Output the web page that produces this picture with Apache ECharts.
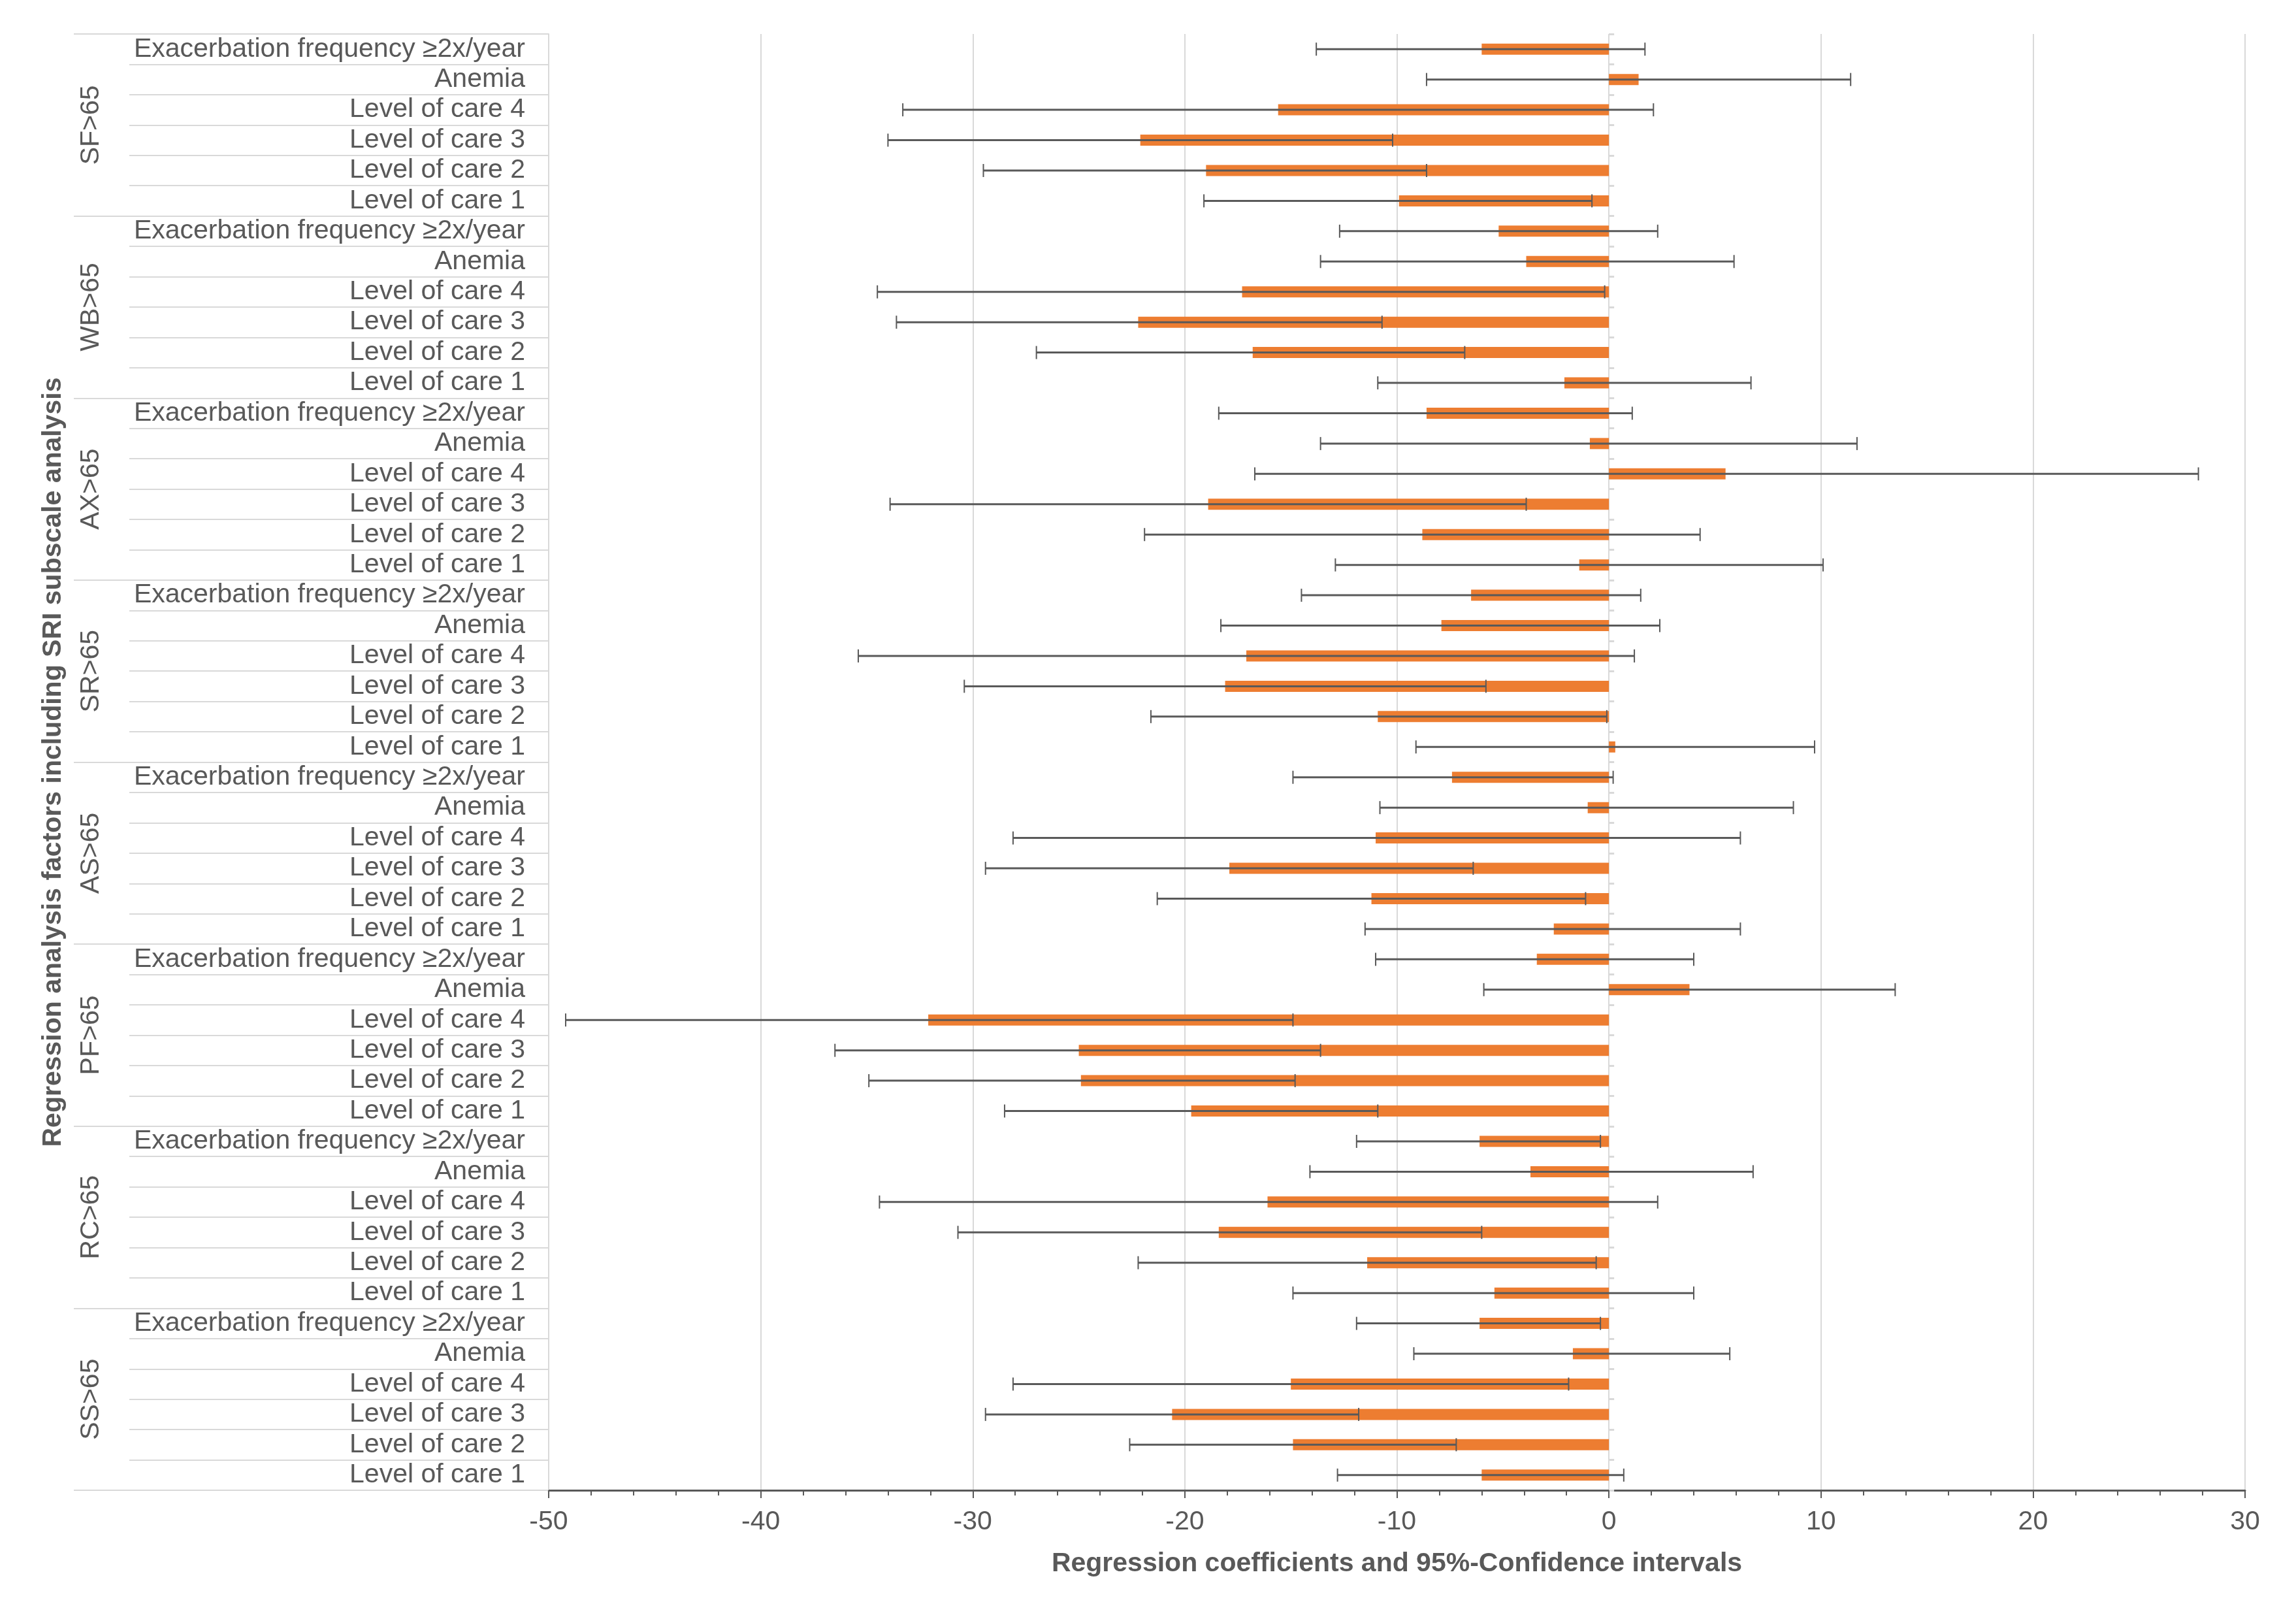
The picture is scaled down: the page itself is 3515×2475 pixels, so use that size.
<!DOCTYPE html>
<html>
<head>
<meta charset="utf-8">
<script src="https://cdn.jsdelivr.net/npm/echarts@6/dist/echarts.min.js"></script>
<style>
  html, body { margin: 0; padding: 0; background: #fff; }
  #main { width: 3515px; height: 2475px; }
</style>
</head>
<body>
<div id="main"></div>
<script>
// subscales (top to bottom) and the factors inside each one
var groups = ['SF>65', 'WB>65', 'AX>65', 'SR>65', 'AS>65', 'PF>65', 'RC>65', 'SS>65'];
var factors = ['Exacerbation frequency ≥2x/year', 'Anemia', 'Level of care 4', 'Level of care 3', 'Level of care 2', 'Level of care 1'];

// regression coefficients, one row per subscale
var coef = [
  -6.0, 1.4, -15.6, -22.1, -19.0, -9.9,    // SF
  -5.2, -3.9, -17.3, -22.2, -16.8, -2.1,   // WB
  -8.6, -0.9, 5.5, -18.9, -8.8, -1.4,      // AX
  -6.5, -7.9, -17.1, -18.1, -10.9, 0.3,    // SR
  -7.4, -1.0, -11.0, -17.9, -11.2, -2.6,   // AS
  -3.4, 3.8, -32.1, -25.0, -24.9, -19.7,   // PF
  -6.1, -3.7, -16.1, -18.4, -11.4, -5.4,   // RC
  -6.1, -1.7, -15.0, -20.6, -14.9, -6.0    // SS
];
// 95% CI lower bounds
var ciLow = [
  -13.8, -8.6, -33.3, -34.0, -29.5, -19.1,
  -12.7, -13.6, -34.5, -33.6, -27.0, -10.9,
  -18.4, -13.6, -16.7, -33.9, -21.9, -12.9,
  -14.5, -18.3, -35.4, -30.4, -21.6, -9.1,
  -14.9, -10.8, -28.1, -29.4, -21.3, -11.5,
  -11.0, -5.9, -49.2, -36.5, -34.9, -28.5,
  -11.9, -14.1, -34.4, -30.7, -22.2, -14.9,
  -11.9, -9.2, -28.1, -29.4, -22.6, -12.8
];
// 95% CI upper bounds
var ciHigh = [
  1.7, 11.4, 2.1, -10.2, -8.6, -0.8,
  2.3, 5.9, -0.2, -10.7, -6.8, 6.7,
  1.1, 11.7, 27.8, -3.9, 4.3, 10.1,
  1.5, 2.4, 1.2, -5.8, -0.1, 9.7,
  0.2, 8.7, 6.2, -6.4, -1.1, 6.2,
  4.0, 13.5, -14.9, -13.6, -14.8, -10.9,
  -0.4, 6.8, 2.3, -6.0, -0.6, 4.0,
  -0.4, 5.7, -1.9, -11.8, -7.2, 0.7
];
var xMin = -50, xMax = 30, xStep = 10;

var labels = [];
groups.forEach(function (g) {
  factors.forEach(function (f) { labels.push(f); });
});
var errData = coef.map(function (v, i) { return [i, ciLow[i], ciHigh[i]]; });

var txt = '#595959';
var light = '#D9D9D9';
var font = 'Liberation Sans, Arial, sans-serif';

var myChart = echarts.init(document.getElementById('main'));
myChart.setOption({
  backgroundColor: '#FFFFFF',
  animation: false,
  grid: { left: 840, right: 78, top: 52, bottom: 194, containLabel: false, outerBoundsMode: 'none' },
  xAxis: {
    type: 'value',
    min: xMin, max: xMax, interval: xStep,
    name: 'Regression coefficients and 95%-Confidence intervals',
    nameLocation: 'middle',
    nameGap: 92,
    nameTextStyle: { color: txt, fontSize: 41, fontWeight: 'bold', fontFamily: font },
    axisLine: { show: true, lineStyle: { color: txt, width: 3 } },
    axisTick: { show: true, length: 12, lineStyle: { color: txt, width: 2 } },
    minorTick: { show: true, splitNumber: 5, length: 8, lineStyle: { color: txt, width: 2 } },
    axisLabel: { color: txt, fontSize: 41, fontFamily: font, margin: 28 },
    splitLine: { show: true, lineStyle: { color: light, width: 2 } }
  },
  yAxis: [
    {
      // factor labels + short separators
      type: 'category', data: labels, inverse: true, position: 'left',
      name: 'Regression analysis factors including SRI subscale analysis',
      nameLocation: 'middle', nameRotate: 90, nameGap: 738,
      nameTextStyle: { color: txt, fontSize: 41, fontWeight: 'bold', fontFamily: font },
      axisLine: { show: true, onZero: false, lineStyle: { color: light, width: 2 } },
      axisTick: { show: true, interval: 0, length: 642, lineStyle: { color: light, width: 2 } },
      axisLabel: { interval: 0, color: txt, fontSize: 41, fontFamily: font, margin: 36, padding: [3, 0, 0, 0] },
      splitLine: { show: false }
    },
    {
      // long separators between subscales
      type: 'category', data: labels, inverse: true, position: 'left',
      axisLine: { show: false, onZero: false },
      axisTick: { show: true, length: 727, interval: function (i) { return i % factors.length === 0; },
        lineStyle: { color: light, width: 2 } },
      axisLabel: { show: false },
      splitLine: { show: false }
    },
    {
      // subscale names
      type: 'category', data: groups, inverse: true, position: 'left',
      axisLine: { show: false, onZero: false },
      axisTick: { show: false },
      axisLabel: { interval: 0, rotate: 90, color: txt, fontSize: 41, fontFamily: font, margin: 680 },
      splitLine: { show: false }
    },
    {
      // little ticks at x = 0
      type: 'category', data: labels, inverse: true, position: 'left',
      axisLine: { show: false, onZero: true },
      axisTick: { show: true, inside: true, length: 8, interval: 0, lineStyle: { color: light, width: 3 } },
      axisLabel: { show: false },
      splitLine: { show: false }
    }
  ],
  series: [
    {
      name: 'coef',
      type: 'bar',
      yAxisIndex: 0,
      data: coef,
      barWidth: 17,
      itemStyle: { color: '#ED7D31' },
      z: 2
    },
    {
      name: 'ci',
      type: 'custom',
      yAxisIndex: 0,
      data: errData,
      encode: { x: [1, 2], y: 0 },
      z: 3,
      renderItem: function (params, api) {
        var yi = api.value(0);
        var lo = api.coord([api.value(1), yi]);
        var hi = api.coord([api.value(2), yi]);
        var cap = 10;
        var st = { stroke: '#595959', lineWidth: 3 };
        var cs = { stroke: '#595959', lineWidth: 2 };
        return {
          type: 'group',
          children: [
            { type: 'line', shape: { x1: lo[0], y1: lo[1], x2: hi[0], y2: hi[1] }, style: st },
            { type: 'line', shape: { x1: lo[0], y1: lo[1] - cap, x2: lo[0], y2: lo[1] + cap }, style: cs },
            { type: 'line', shape: { x1: hi[0], y1: hi[1] - cap, x2: hi[0], y2: hi[1] + cap }, style: cs }
          ]
        };
      }
    }
  ]
});
</script>
</body>
</html>
